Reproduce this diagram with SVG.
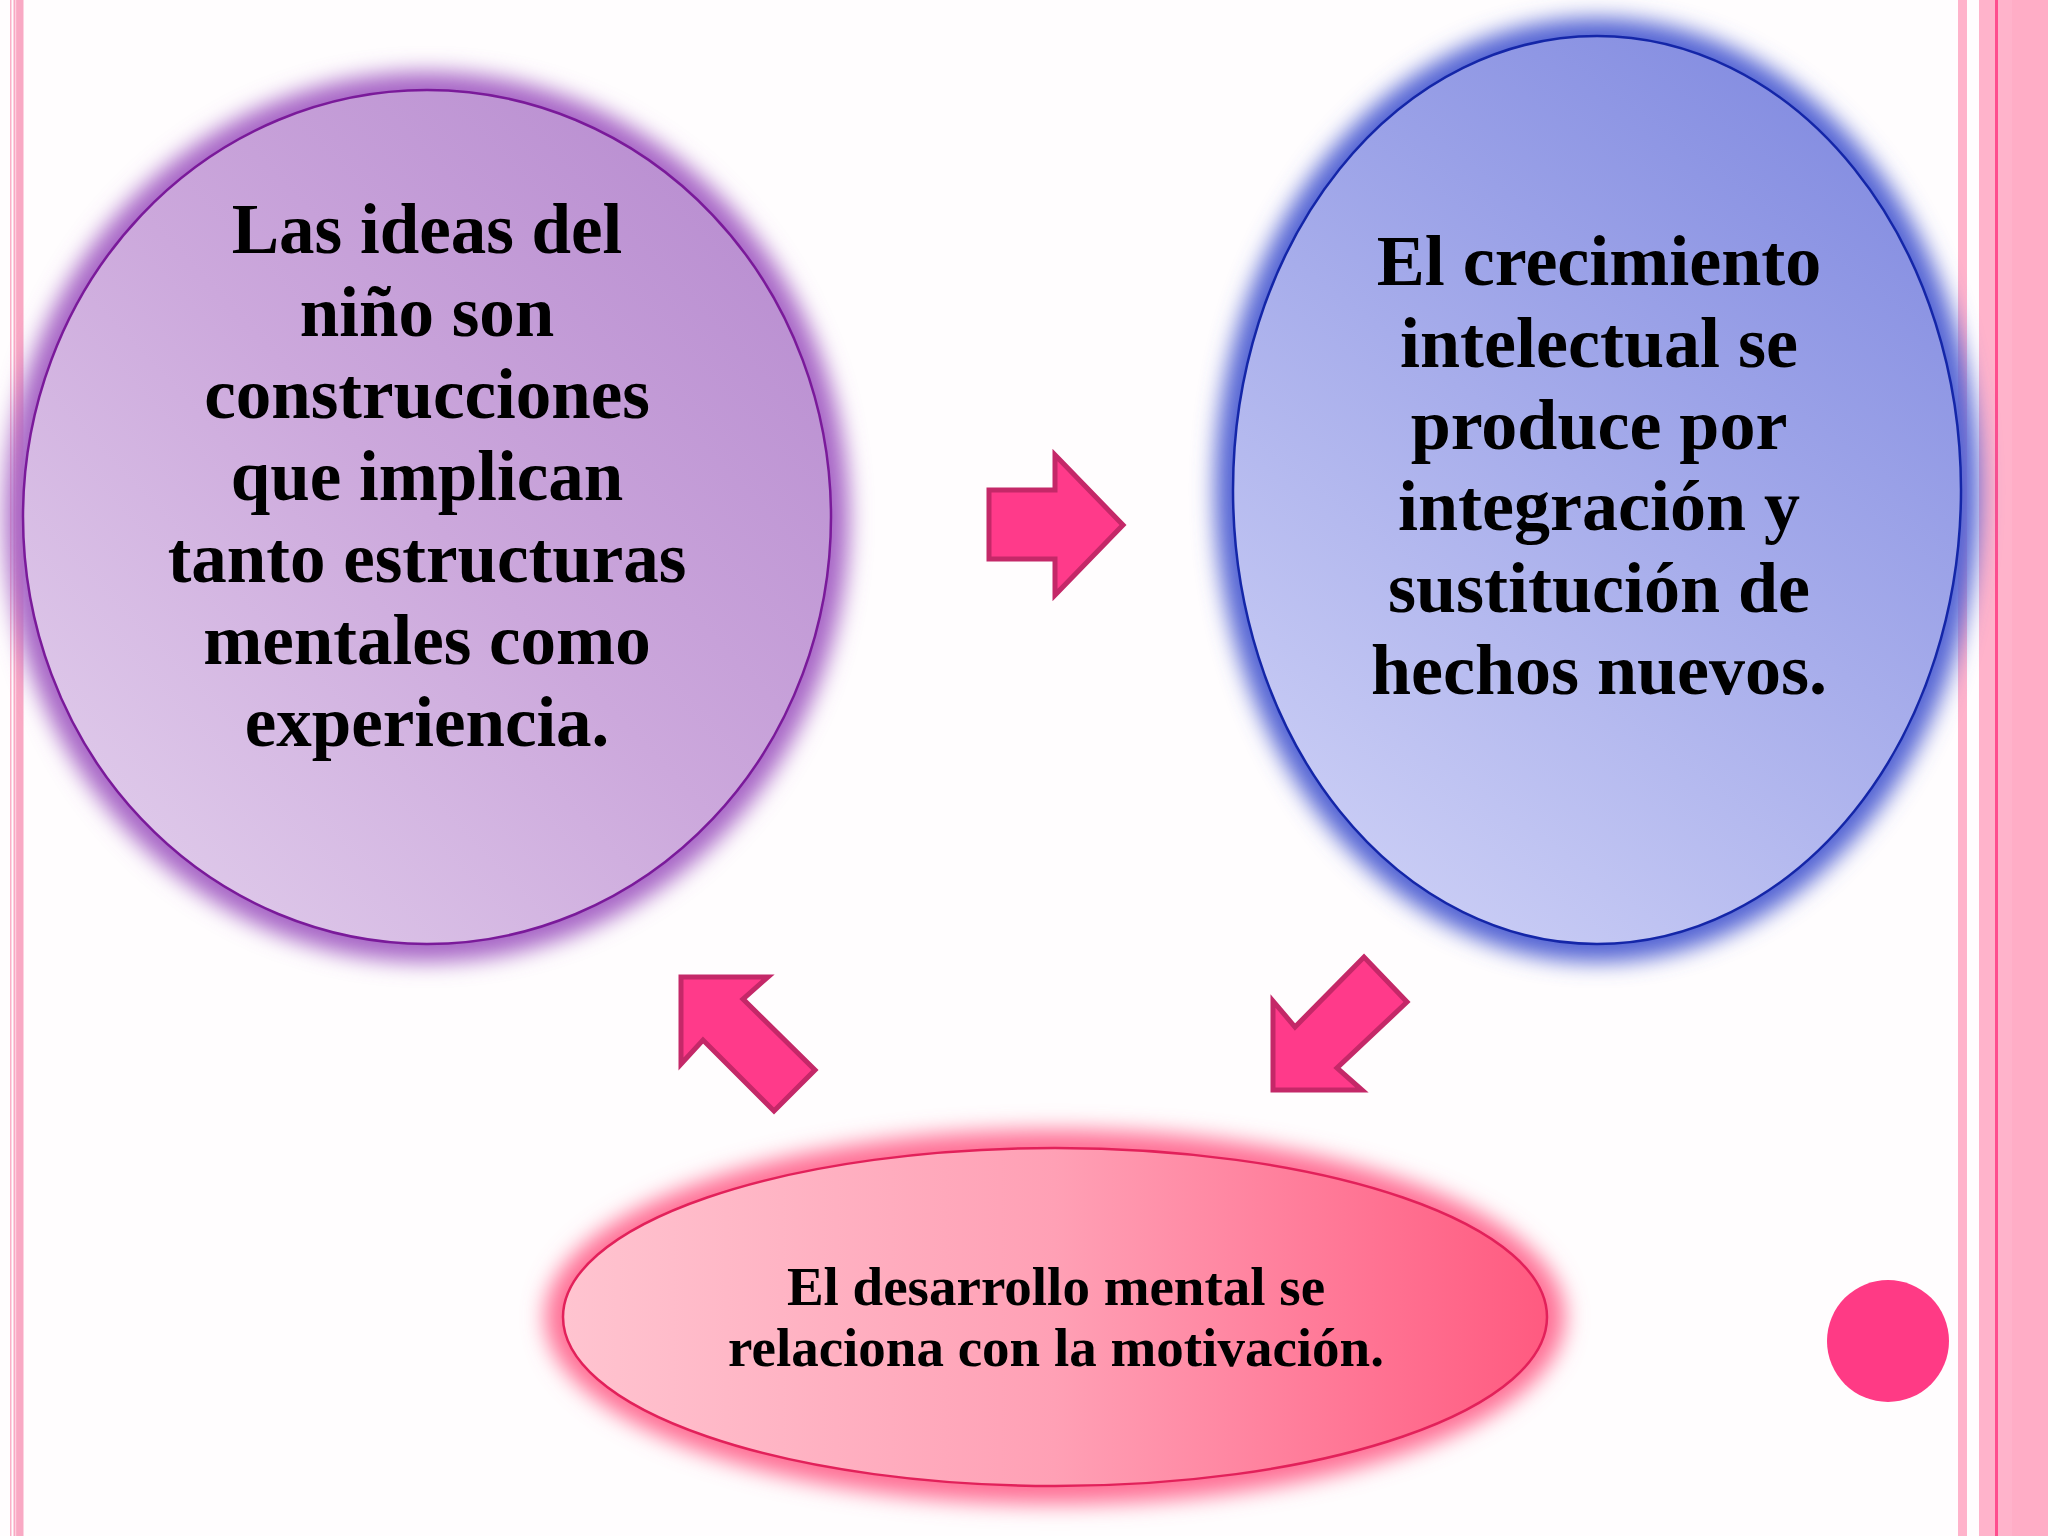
<svg xmlns="http://www.w3.org/2000/svg" width="2048" height="1536" viewBox="0 0 2048 1536">
<defs>
<linearGradient id="gPurple" x1="0" y1="1" x2="1" y2="0">
<stop offset="0" stop-color="#E4D3EE"/>
<stop offset="0.5" stop-color="#CCA8DC"/>
<stop offset="1" stop-color="#B487CE"/>
</linearGradient>
<linearGradient id="gBlue" x1="0.2" y1="1" x2="0.8" y2="0">
<stop offset="0" stop-color="#CDD0F6"/>
<stop offset="1" stop-color="#818AE0"/>
</linearGradient>
<linearGradient id="gPink" x1="0" y1="0.5" x2="1" y2="0.5">
<stop offset="0" stop-color="#FFC4D0"/>
<stop offset="0.5" stop-color="#FFA0B5"/>
<stop offset="1" stop-color="#FF5A80"/>
</linearGradient>
<filter id="glow" x="-20%" y="-20%" width="140%" height="140%">
<feGaussianBlur stdDeviation="11"/>
</filter>
<style>
.t{font-family:"Liberation Serif","Times New Roman",serif;font-weight:bold;fill:#000;text-anchor:middle}
.arrow{fill:#FF3A8A;stroke:#C42868;stroke-width:5;stroke-linejoin:miter}
.border{fill:#FFB3CB}
</style>
</defs>
<rect width="2048" height="1536" fill="#FFFDFE"/>
<g id="borders">
<rect x="10" y="0" width="1.5" height="1536" fill="#F9B0C8"/>
<rect x="13.5" y="0" width="10" height="1536" fill="#F9A9C4"/>
<rect x="15" y="0" width="1.2" height="1536" fill="#FCD0DF"/>
<rect class="border" x="1958" y="0" width="9" height="1536"/>
<rect class="border" x="1979" y="0" width="16" height="1536"/>
<rect x="1995" y="0" width="3" height="1536" fill="#FF4D8E"/>
<rect class="border" x="1998" y="0" width="14" height="1536"/>
<rect x="2012" y="0" width="36" height="1536" fill="#FFADC6"/>
</g>
<g id="n-ideas">
<ellipse cx="427" cy="517" rx="422" ry="445" fill="#A766C6" filter="url(#glow)"/>
<ellipse cx="427" cy="517" rx="404" ry="427" fill="url(#gPurple)" stroke="#7A1A9A" stroke-width="2.5"/>
<text class="t" font-size="71" x="427" y="253">Las ideas del</text>
<text class="t" font-size="71" x="427" y="336">niño son</text>
<text class="t" font-size="71" x="427" y="418">construcciones</text>
<text class="t" font-size="71" x="427" y="500">que implican</text>
<text class="t" font-size="71" x="427" y="582">tanto estructuras</text>
<text class="t" font-size="71" x="427" y="664">mentales como</text>
<text class="t" font-size="71" x="427" y="746">experiencia.</text>
</g>
<g id="n-crecimiento">
<ellipse cx="1597" cy="490" rx="382" ry="472" fill="#5565D4" filter="url(#glow)"/>
<ellipse cx="1597" cy="490" rx="364" ry="454" fill="url(#gBlue)" stroke="#1426A8" stroke-width="2.5"/>
<text class="t" font-size="72" x="1599" y="285">El crecimiento</text>
<text class="t" font-size="72" x="1599" y="367">intelectual se</text>
<text class="t" font-size="72" x="1599" y="449">produce por</text>
<text class="t" font-size="72" x="1599" y="530">integración y</text>
<text class="t" font-size="72" x="1599" y="612">sustitución de</text>
<text class="t" font-size="72" x="1599" y="694">hechos nuevos.</text>
</g>
<g id="n-desarrollo">
<ellipse cx="1055" cy="1317" rx="510" ry="187" fill="#FF6F95" filter="url(#glow)"/>
<ellipse cx="1055" cy="1317" rx="492" ry="169" fill="url(#gPink)" stroke="#E2215A" stroke-width="2.5"/>
<text class="t" font-size="55" x="1056" y="1305">El desarrollo mental se</text>
<text class="t" font-size="55" x="1056" y="1366">relaciona con la motivación.</text>
</g>
<g id="connectors">
<polygon class="arrow" points="989,490 1055,490 1055,455 1123,525 1055,595 1055,559 989,559"/>
<polygon class="arrow" points="1273,1090 1362,1090 1337,1068 1407,1002 1364,957 1295,1027 1273,1001"/>
<polygon class="arrow" points="681,977 768,977 743,999 815,1070 774,1111 703,1040 681,1064"/>
</g>
<circle id="dot" cx="1888" cy="1341" r="61" fill="#FF3A85"/>
</svg>
